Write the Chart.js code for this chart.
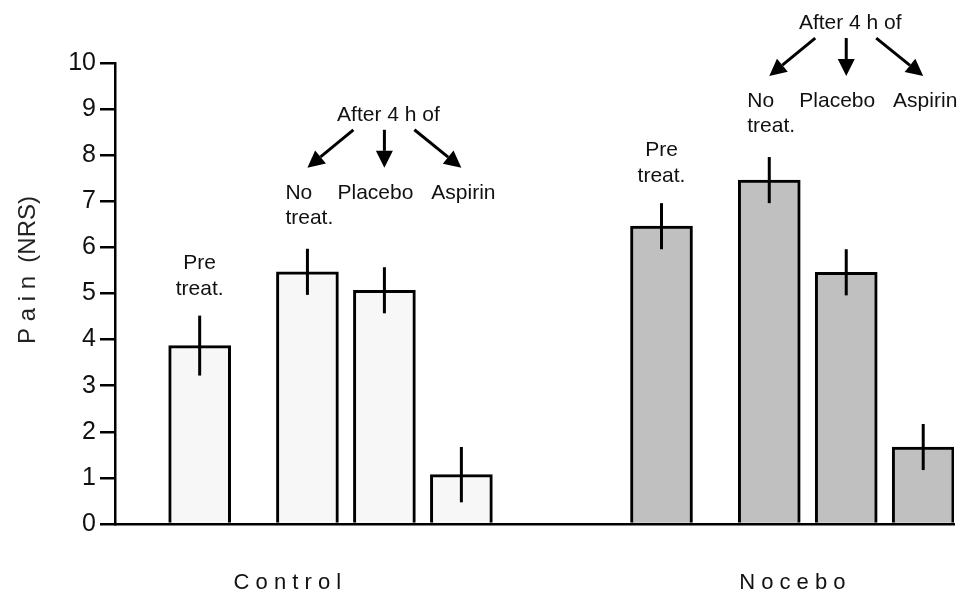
<!DOCTYPE html>
<html>
<head>
<meta charset="utf-8">
<script src="https://cdn.jsdelivr.net/npm/chart.js@4.4.0/dist/chart.umd.min.js"></script>
<style>
  body { margin: 0; background: #fff; }
  #wrap { width: 963px; height: 599px; }
</style>
</head>
<body>
<div id="wrap"><canvas id="chart" width="963" height="599"></canvas></div>
<script>
const categories = ['Pre treat.', 'No treat.', 'Placebo', 'Aspirin'];
const groups = ['Control', 'Nocebo'];
const controlPain = [3.87, 5.47, 5.07, 1.07];
const controlErr = [0.65, 0.5, 0.5, 0.6];
const noceboPain = [6.46, 7.46, 5.46, 1.67];
const noceboErr = [0.5, 0.5, 0.5, 0.5];
const yTicks = [0, 1, 2, 3, 4, 5, 6, 7, 8, 9, 10];

// bar slots along a linear x axis (pre-treatment sits a bit apart)
const slots = [5.5, 12.5, 17.5, 22.5];
const groupShift = 30;
const groupLabelAt = [11.2, 44];

const FONT = '"Liberation Sans", Arial, sans-serif';

function points(vals, shift) {
  return vals.map((v, i) => ({ x: slots[i] + shift, y: v }));
}

function arrow(ctx, x1, y1, x2, y2) {
  const a = Math.atan2(y2 - y1, x2 - x1);
  const len = 17, half = 8.5;
  const bx = x2 - len * Math.cos(a), by = y2 - len * Math.sin(a);
  ctx.beginPath();
  ctx.moveTo(x1, y1);
  ctx.lineTo(bx, by);
  ctx.stroke();
  ctx.beginPath();
  ctx.moveTo(x2, y2);
  ctx.lineTo(bx + half * Math.sin(a), by - half * Math.cos(a));
  ctx.lineTo(bx - half * Math.sin(a), by + half * Math.cos(a));
  ctx.closePath();
  ctx.fill();
}

const extras = {
  id: 'extras',
  afterDatasetsDraw(chart) {
    const ctx = chart.ctx;
    const y = chart.scales.y;
    ctx.save();
    ctx.strokeStyle = '#000';
    ctx.fillStyle = '#111';
    ctx.lineWidth = 3;
    chart.data.datasets.forEach((ds, di) => {
      const bars = chart.getDatasetMeta(di).data;
      const tops = [];
      bars.forEach((bar, i) => {
        const v = ds.data[i].y, e = ds.errors[i];
        const t = y.getPixelForValue(v + e);
        tops.push(t);
        ctx.beginPath();
        ctx.moveTo(bar.x, t);
        ctx.lineTo(bar.x, y.getPixelForValue(v - e));
        ctx.stroke();
      });

      ctx.font = '21px ' + FONT;
      ctx.textBaseline = 'alphabetic';
      // pre treatment label
      ctx.textAlign = 'center';
      const pre = categories[0].split(' ');
      ctx.fillText(pre[0], bars[0].x, tops[0] - 47);
      ctx.fillText(pre[1], bars[0].x, tops[0] - 21);

      // after 4 h block, anchored on the no-treatment bar
      const base = tops[1];
      const nt = categories[1].split(' ');
      ctx.textAlign = 'left';
      ctx.fillText(nt[0], bars[1].x - 22, base - 50);
      ctx.fillText(nt[1], bars[1].x - 22, base - 25);
      ctx.textAlign = 'center';
      ctx.fillText(categories[2], bars[2].x - 9, base - 50);
      ctx.fillText(categories[3], bars[3].x + 2, base - 50);
      ctx.fillText('After 4 h of', bars[2].x + 4, base - 128);

      ctx.fillStyle = '#000';
      const yTop = base - 119, yTip = base - 81;
      arrow(ctx, bars[2].x - 31, yTop, bars[1].x, yTip);
      arrow(ctx, bars[2].x, yTop, bars[2].x, yTip);
      arrow(ctx, bars[2].x + 30, yTop, bars[3].x, yTip);
      ctx.fillStyle = '#111';
    });

    // y axis title
    ctx.save();
    ctx.translate(28, 270);
    ctx.rotate(-Math.PI / 2);
    ctx.font = '24px ' + FONT;
    ctx.fillStyle = '#222';
    ctx.textAlign = 'center';
    ctx.textBaseline = 'middle';
    ctx.fillText('P a i n  (NRS)', 0, 0);
    ctx.restore();
    ctx.restore();
  }
};

new Chart(document.getElementById('chart'), {
  type: 'bar',
  data: {
    datasets: [
      {
        label: groups[0],
        data: points(controlPain, 0),
        errors: controlErr,
        backgroundColor: '#f7f7f7',
        borderColor: '#000',
        borderWidth: 3,
        barThickness: 62,
        grouped: false
      },
      {
        label: groups[1],
        data: points(noceboPain, groupShift),
        errors: noceboErr,
        backgroundColor: '#c0c0c0',
        borderColor: '#000',
        borderWidth: 3,
        barThickness: 62,
        grouped: false
      }
    ]
  },
  options: {
    responsive: false,
    animation: false,
    devicePixelRatio: 1,
    layout: { padding: { top: 63, right: 9, left: 0, bottom: 0 } },
    plugins: {
      legend: { display: false },
      tooltip: { enabled: false }
    },
    scales: {
      x: {
        type: 'linear',
        min: 0,
        max: 54.5,
        offset: false,
        grid: { display: false, drawTicks: false },
        border: { display: true, color: '#000', width: 2.5 },
        afterBuildTicks: (scale) => {
          scale.ticks = groupLabelAt.map(v => ({ value: v }));
        },
        afterFit: (scale) => { scale.height = 75; },
        ticks: {
          autoSkip: false,
          maxRotation: 0,
          padding: 46,
          color: '#111',
          font: { family: FONT, size: 22 },
          callback: (v, i) => groups[i].split('').join(' ')
        }
      },
      y: {
        min: 0,
        max: 10,
        afterBuildTicks: (scale) => {
          scale.ticks = yTicks.map(v => ({ value: v }));
        },
        afterFit: (scale) => { scale.width = 115; },
        grid: {
          drawOnChartArea: false,
          drawTicks: true,
          tickLength: 15,
          color: '#000',
          lineWidth: 2.5
        },
        border: { display: true, color: '#000', width: 2.5 },
        ticks: {
          padding: 4,
          color: '#111',
          font: { family: FONT, size: 25 }
        }
      }
    }
  },
  plugins: [extras]
});
</script>
</body>
</html>
